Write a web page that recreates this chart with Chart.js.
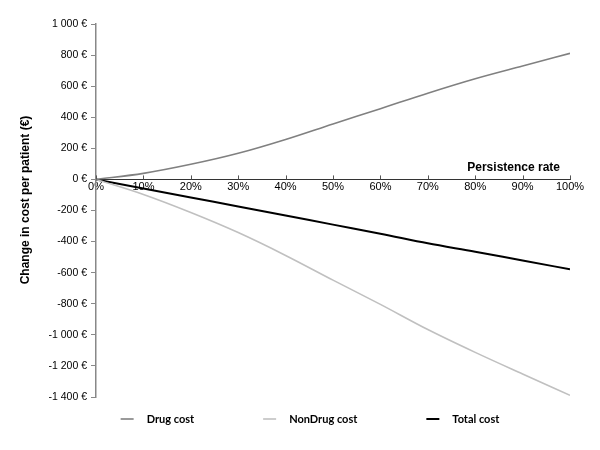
<!DOCTYPE html>
<html>
<head>
<meta charset="utf-8">
<script src="https://cdn.jsdelivr.net/npm/chart.js@4"></script>
<style>
  html, body { margin: 0; padding: 0; background: #fff; }
  #wrap { width: 600px; height: 450px; position: relative; }
</style>
</head>
<body>
<div id="wrap"><canvas id="chart"></canvas></div>
<script>
const persistence = [0, 10, 20, 30, 40, 50, 60, 70, 80, 90, 100];
const drugCost = [0, 39, 97, 168, 257, 357, 455, 555, 648, 730, 811];
const nonDrugCost = [0, -97, -213, -342, -489, -648, -804, -966, -1113, -1252, -1389];
const totalCost = [0, -58, -116, -174, -232, -291, -349, -411, -465, -522, -578];
const seriesNames = ['Drug cost', 'NonDrug cost', 'Total cost'];
const yTicks = [1000, 800, 600, 400, 200, 0, -200, -400, -600, -800, -1000, -1200, -1400];

const FONT = '"Liberation Sans", Arial, sans-serif';
const LEGEND_FONT = 'bold 11px Lato, "Liberation Sans", sans-serif';

function euro(v) {
  const s = Math.abs(v).toString().replace(/\B(?=(\d{3})+(?!\d))/g, ' ');
  return (v < 0 ? '-' : '') + s + ' €';
}

function pts(values) {
  return values.map((v, i) => ({ x: persistence[i], y: v }));
}

// small upward tick marks on the x axis, the "Persistence rate" label and the y title
const axisDecor = {
  id: 'axisDecor',
  afterDraw(chart) {
    const { ctx, scales: { x, y } } = chart;
    const y0 = y.getPixelForValue(0);
    ctx.save();
    ctx.strokeStyle = '#555';
    ctx.lineWidth = 1;
    persistence.forEach((p) => {
      const px = Math.round(x.getPixelForValue(p)) + 0.5;
      ctx.beginPath();
      ctx.moveTo(px, y0);
      ctx.lineTo(px, y0 - 4);
      ctx.stroke();
    });
    ctx.fillStyle = '#000';
    ctx.font = 'bold 12px ' + FONT;
    ctx.textAlign = 'right';
    ctx.textBaseline = 'middle';
    ctx.fillText('Persistence rate', x.right - 10, y0 - 12);

    // y axis title sits a little above the middle of the axis in the original
    ctx.translate(26, 200);
    ctx.rotate(-Math.PI / 2);
    ctx.textAlign = 'center';
    ctx.fillText('Change in cost per patient (€)', 0, 0);
    ctx.restore();
  }
};

// wide-spaced legend row under the plot, like the spreadsheet original
const spreadLegend = {
  id: 'spreadLegend',
  afterDraw(chart) {
    const { ctx } = chart;
    const sample = 13, gapText = 13, gapItem = 69, cy = 419, centre = 310;
    ctx.save();
    ctx.font = LEGEND_FONT;
    ctx.textBaseline = 'middle';
    ctx.textAlign = 'left';
    const items = chart.data.datasets.map((ds) => ({
      text: ds.label, color: ds.borderColor, w: ds.borderWidth,
      width: sample + gapText + ctx.measureText(ds.label).width
    }));
    const total = items.reduce((s, it) => s + it.width, 0) + gapItem * (items.length - 1);
    let x = centre - total / 2;
    items.forEach((it) => {
      ctx.strokeStyle = it.color;
      ctx.lineWidth = it.w;
      ctx.beginPath();
      ctx.moveTo(x, cy);
      ctx.lineTo(x + sample, cy);
      ctx.stroke();
      ctx.fillStyle = '#000';
      ctx.fillText(it.text, x + sample + gapText, cy);
      x += it.width + gapItem;
    });
    ctx.restore();
  }
};

new Chart(document.getElementById('chart'), {
  type: 'line',
  data: {
    datasets: [
      { label: seriesNames[0], data: pts(drugCost), borderColor: '#808080', backgroundColor: '#808080', borderWidth: 1.6 },
      { label: seriesNames[1], data: pts(nonDrugCost), borderColor: '#c0c0c0', backgroundColor: '#c0c0c0', borderWidth: 1.6 },
      { label: seriesNames[2], data: pts(totalCost), borderColor: '#000000', backgroundColor: '#000000', borderWidth: 2 }
    ]
  },
  options: {
    responsive: true,
    maintainAspectRatio: false,
    animation: false,
    elements: {
      point: { radius: 0 },
      line: { tension: 0.4, cubicInterpolationMode: 'monotone' }
    },
    layout: { padding: { top: 24, right: 30, bottom: 53, left: 0 } },
    scales: {
      x: {
        type: 'linear',
        position: { y: 0 },
        min: 0,
        max: 100,
        afterBuildTicks(scale) { scale.ticks = persistence.map((v) => ({ value: v })); },
        grid: { display: false, drawTicks: false },
        border: { display: true, color: '#333', width: 1 },
        ticks: {
          padding: 1,
          color: '#000',
          font: { family: FONT, size: 11 },
          maxRotation: 0,
          callback: (v) => v + '%'
        }
      },
      y: {
        min: -1400,
        max: 1000,
        afterBuildTicks(scale) { scale.ticks = yTicks.map((v) => ({ value: v })); },
        afterFit(scale) { scale.width = 96; },
        grid: { drawOnChartArea: false, drawTicks: true, tickLength: 5, color: '#888' },
        border: { display: true, color: '#888', width: 1.5 },
        ticks: {
          padding: 4,
          color: '#000',
          font: { family: FONT, size: 10.5 },
          callback: (v) => euro(v)
        }
      }
    },
    plugins: {
      legend: { display: false },
      tooltip: { enabled: false }
    }
  },
  plugins: [axisDecor, spreadLegend]
});
</script>
</body>
</html>
